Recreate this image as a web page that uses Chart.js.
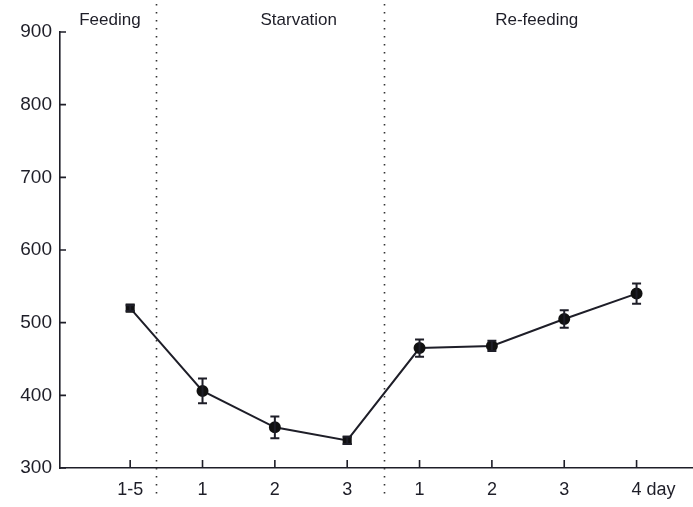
<!DOCTYPE html>
<html>
<head>
<meta charset="utf-8">
<script src="https://cdn.jsdelivr.net/npm/chart.js@4/dist/chart.umd.min.js"></script>
<style>
  html, body { margin: 0; padding: 0; background: #fff; overflow: hidden; }
  canvas { display: block; }
</style>
</head>
<body>
<canvas id="grafico" width="693" height="507"></canvas>
<script>
const dias = ['1-5', '1', '2', '3', '1', '2', '3', '4 day'];
const medias = [520, 406, 356, 338, 465, 468, 505, 540];
const erros = [4, 17, 15, 5, 12, 7, 12, 14];
const fases = ['Feeding', 'Starvation', 'Re-feeding'];
const yTicks = [300, 400, 500, 600, 700, 800, 900];

const fonte = "'Liberation Sans', Arial, sans-serif";
const tinta = '#1e1e28';

// error bars, dividers, phase titles, inward ticks, x labels
const extras = {
  id: 'extras',
  afterDatasetsDraw(chart) {
    const { ctx, scales: { x, y } } = chart;
    ctx.save();
    ctx.strokeStyle = tinta;
    ctx.lineWidth = 2;
    medias.forEach((m, i) => {
      const px = x.getPixelForValue(i);
      const top = y.getPixelForValue(m + erros[i]);
      const bot = y.getPixelForValue(m - erros[i]);
      ctx.beginPath();
      ctx.moveTo(px, top); ctx.lineTo(px, bot);
      ctx.moveTo(px - 4.5, top); ctx.lineTo(px + 4.5, top);
      ctx.moveTo(px - 4.5, bot); ctx.lineTo(px + 4.5, bot);
      ctx.stroke();
    });
    ctx.restore();
  },
  afterDraw(chart) {
    const { ctx, chartArea, scales: { x, y } } = chart;
    ctx.save();

    // dotted dividers
    ctx.strokeStyle = '#333';
    ctx.lineWidth = 1.6;
    ctx.setLineDash([1.6, 6.4]);
    [0.36, 3.51].forEach(v => {
      const px = Math.round(x.getPixelForValue(v)) + 0.5;
      ctx.beginPath();
      ctx.moveTo(px, 4);
      ctx.lineTo(px, 500);
      ctx.stroke();
    });
    ctx.setLineDash([]);

    // phase titles
    ctx.fillStyle = tinta;
    ctx.font = '17px ' + fonte;
    ctx.textAlign = 'center';
    ctx.textBaseline = 'middle';
    [-0.28, 2.33, 5.62].forEach((v, i) => {
      ctx.fillText(fases[i], x.getPixelForValue(v), 20);
    });

    // inward ticks
    ctx.strokeStyle = tinta;
    ctx.lineWidth = 1.6;
    ctx.beginPath();
    yTicks.forEach(t => {
      const py = y.getPixelForValue(t);
      ctx.moveTo(chartArea.left, py);
      ctx.lineTo(chartArea.left + 6, py);
    });
    dias.forEach((d, i) => {
      const px = x.getPixelForValue(i);
      ctx.moveTo(px, chartArea.bottom);
      ctx.lineTo(px, chartArea.bottom - 8);
    });
    ctx.stroke();

    // x labels, first word centred on the tick
    ctx.font = '18px ' + fonte;
    ctx.textAlign = 'left';
    dias.forEach((d, i) => {
      const px = x.getPixelForValue(i);
      const w = ctx.measureText(d.split(' ')[0]).width;
      ctx.fillText(d, px - w / 2, chartArea.bottom + 22);
    });
    ctx.restore();
  }
};

new Chart(document.getElementById('grafico'), {
  type: 'line',
  data: {
    datasets: [{
      data: medias.map((m, i) => ({ x: i, y: m })),
      borderColor: tinta,
      borderWidth: 2,
      backgroundColor: '#111',
      pointBackgroundColor: '#111',
      pointBorderColor: '#111',
      pointRadius: 5,
      pointStyle: ['rect', 'circle', 'circle', 'rect', 'circle', 'circle', 'circle', 'circle'],
      tension: 0
    }]
  },
  options: {
    responsive: false,
    animation: false,
    layout: { autoPadding: false, padding: { top: 32, right: 0, bottom: 39, left: 0 } },
    plugins: { legend: { display: false }, tooltip: { enabled: false } },
    scales: {
      x: {
        type: 'linear',
        min: -0.97,
        max: 7.78,
        grid: { display: true, drawOnChartArea: false, drawTicks: false },
        border: { display: true, color: tinta, width: 1.6 },
        ticks: { display: false },
        afterFit: s => { s.height = 0; }
      },
      y: {
        min: 300,
        max: 900,
        grid: { display: true, drawOnChartArea: false, drawTicks: false },
        border: { display: true, color: tinta, width: 1.6 },
        ticks: {
          stepSize: 100,
          padding: 8,
          color: tinta,
          font: { family: fonte, size: 19 }
        },
        afterFit: s => { s.width = 60; }
      }
    }
  },
  plugins: [extras]
});
</script>
</body>
</html>
